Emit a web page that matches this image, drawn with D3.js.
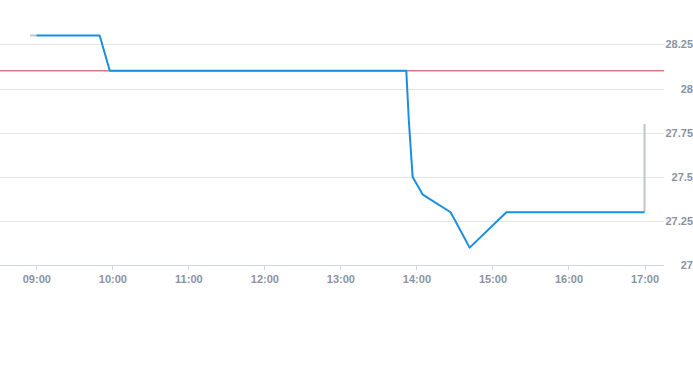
<!DOCTYPE html>
<html>
<head>
<meta charset="utf-8">
<script src="https://cdn.jsdelivr.net/npm/d3@7"></script>
<style>
    body { margin: 0; background: #fff; }
    svg { display: block; font-family: "Liberation Sans", Arial, sans-serif; }
</style>
</head>
<body>
<svg id="chart" width="693" height="365"></svg>
<script>
// intraday price, market hours
var marketTimes = ["09:00", "09:50", "09:58", "13:52", "13:54", "13:57", "14:05", "14:27", "14:42", "15:11", "17:00"];
var marketPrices = [28.3, 28.3, 28.1, 28.1, 27.82, 27.5, 27.4, 27.3, 27.1, 27.3, 27.3];
// pre / after hours
var preTimes = ["08:55", "09:00"];
var prePrices = [28.3, 28.3];
var postTimes = ["17:00", "17:00"];
var postPrices = [27.3, 27.8];
var prevClose = 28.1;
var xTicks = ["09:00", "10:00", "11:00", "12:00", "13:00", "14:00", "15:00", "16:00", "17:00"];
var yTicks = [27, 27.25, 27.5, 27.75, 28, 28.25];

var parse = d3.timeParse("%H:%M");
var svg = d3.select("#chart");

var plotRight = 664;
var x = d3.scaleTime()
    .domain([parse("09:00"), parse("17:00")])
    .range([36.3, 644.5]);
var y = d3.scaleLinear()
    .domain([27, 28.25])
    .range([265.3, 44.3]);

// horizontal grid + right labels
var yAxis = d3.axisRight(y)
    .tickValues(yTicks)
    .tickSize(-plotRight)
    .tickFormat(function (d) { return d3.format("")(d); });
var gy = svg.append("g")
    .attr("transform", "translate(" + plotRight + ",0)")
    .call(yAxis);
gy.select(".domain").remove();
gy.selectAll(".tick line").attr("stroke", "#e6e6e6").attr("shape-rendering", "crispEdges");
gy.selectAll(".tick text")
    .attr("x", 29)
    .attr("text-anchor", "end")
    .attr("fill", "#8a93a3")
    .style("font-size", "11px")
    .style("font-weight", "bold");

// x axis
var xAxis = d3.axisBottom(x)
    .tickValues(xTicks.map(parse))
    .tickSize(5)
    .tickFormat(d3.timeFormat("%H:%M"));
var gx = svg.append("g")
    .attr("transform", "translate(0," + y(27) + ")")
    .call(xAxis);
gx.select(".domain").remove();
gx.append("line")
    .attr("x1", 0).attr("x2", plotRight)
    .attr("stroke", "#ccd6eb").attr("shape-rendering", "crispEdges");
gx.selectAll(".tick line").attr("stroke", "#ccd6eb").attr("shape-rendering", "crispEdges");
gx.selectAll(".tick text")
    .attr("y", 10)
    .attr("fill", "#8a93a3")
    .style("font-size", "11px")
    .style("font-weight", "bold");

// previous close
svg.append("line")
    .attr("x1", 0).attr("x2", plotRight)
    .attr("y1", y(prevClose)).attr("y2", y(prevClose))
    .attr("stroke", "#c8413c")
    .attr("stroke-width", 1);

var line = d3.line()
    .x(function (d) { return x(parse(d[0])); })
    .y(function (d) { return y(d[1]); });

function draw(times, prices, color, w) {
    var pts = d3.zip(times, prices);
    svg.append("path")
        .datum(pts)
        .attr("d", line)
        .attr("fill", "none")
        .attr("stroke", color)
        .attr("stroke-width", w)
        .attr("stroke-linejoin", "round");
}
draw(preTimes, prePrices, "#bcc7d2", 2);
draw(postTimes, postPrices, "#bcc7d2", 2);
draw(marketTimes, marketPrices, "#1a8fdd", 2);
</script>
</body>
</html>
